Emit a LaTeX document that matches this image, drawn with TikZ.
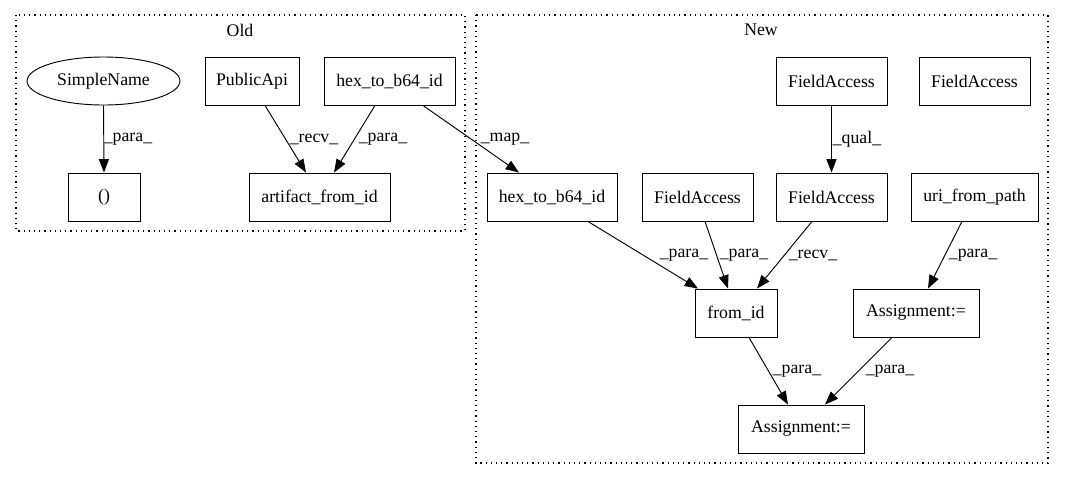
\documentclass[tikz,border=0pt]{standalone}
\usepackage{fontspec}
\setmainfont{Liberation Serif}
\usetikzlibrary{arrows.meta,calc,shapes.geometric}
\begin{document}
\begin{tikzpicture}[x=0.75pt,y=-0.75pt,
  every node/.style={font=\fontsize{13.3}{15}\selectfont},
  box/.style={draw,line width=0.7pt,rectangle,inner sep=0pt,minimum height=36pt},
  ell/.style={draw,line width=0.7pt,ellipse,inner sep=0pt,minimum height=36pt},
  cluster/.style={draw,line width=0.8pt,dash pattern=on 0.9pt off 3pt},
  edge/.style={line width=0.7pt,-{Triangle[length=10pt,width=7.5pt]}},
  lbl/.style={inner sep=0pt}]
\useasboundingbox (0,0) rectangle (1065,480);
% clusters
\draw[cluster] (16,15) rectangle (465,231);
\draw[cluster] (476,15) rectangle (1048,463);
\node[lbl] (oldlbl) at (240,30) {Old};
\node[lbl] (newlbl) at (761,30) {New};
% Old nodes
\node[ell,minimum width=114.75pt] (simple) at (103.5,81) {SimpleName};
\node[box,minimum width=54pt] (paren) at (104,197) {()};
\node[box,minimum width=70.5pt] (pub) at (252,81) {PublicApi};
\node[box,minimum width=98.25pt] (hexo) at (389.5,81) {hex\_to\_b64\_id};
\node[box,minimum width=105.75pt] (artf) at (319.5,197) {artifact\_from\_id};
% New nodes
\node[box,minimum width=97.5pt] (hexn) at (552,197) {hex\_to\_b64\_id};
\node[box,minimum width=83.25pt] (fa1) at (697.5,197) {FieldAccess};
\node[box,minimum width=83.25pt] (fa2) at (831.5,81) {FieldAccess};
\node[box,minimum width=83.25pt] (fa3) at (974.5,81) {FieldAccess};
\node[box,minimum width=83.25pt] (fa4) at (831.5,197) {FieldAccess};
\node[box,minimum width=95.25pt] (uri) at (974.5,197) {uri\_from\_path};
\node[box,minimum width=61.5pt] (fromid) at (736,313) {from\_id};
\node[box,minimum width=94.5pt] (asgR) at (916,313) {Assignment:=};
\node[box,minimum width=94.5pt] (asgB) at (801,429) {Assignment:=};
% edges
\draw[edge] (simple.south) -- (paren.north);
\draw[edge] ($(pub.south)+(13,0)$) -- ($(artf.north)+(-13.5,0)$);
\draw[edge] ($(hexo.south)+(-14.5,0)$) -- ($(artf.north)+(14.5,0)$);
\draw[edge] ($(hexo.south)+(33.5,0)$) -- ($(hexn.north)+(-33,0)$);
\draw[edge] ($(hexn.south)+(36,0)$) -- ($(fromid.north)+(-38,0)$);
\draw[edge] ($(fa1.south)+(7.5,0)$) -- ($(fromid.north)+(-8,0)$);
\draw[edge] ($(fa4.south)+(-19.5,0)$) -- ($(fromid.north)+(21,0)$);
\draw[edge] (fa2.south) -- (fa4.north);
\draw[edge] ($(uri.south)+(-12.5,0)$) -- ($(asgR.north)+(12,0)$);
\draw[edge] ($(fromid.south)+(13,0)$) -- ($(asgB.north)+(-13,0)$);
\draw[edge] ($(asgR.south)+(-24,0)$) -- ($(asgB.north)+(24,0)$);
% edge labels
\node[lbl] (l1) at (128,139) {\_para\_};
\node[lbl] (l2) at (314,139) {\_recv\_};
\node[lbl] (l3) at (383,139) {\_para\_};
\node[lbl] (l4) at (505,139) {\_map\_};
\node[lbl] (l5) at (857,139) {\_qual\_};
\node[lbl] (l6) at (684,255) {\_para\_};
\node[lbl] (l7) at (744,255) {\_para\_};
\node[lbl] (l8) at (813,255) {\_recv\_};
\node[lbl] (l9) at (973,255) {\_para\_};
\node[lbl] (l10) at (797,371) {\_para\_};
\node[lbl] (l11) at (890,371) {\_para\_};
\end{tikzpicture}
\end{document}
